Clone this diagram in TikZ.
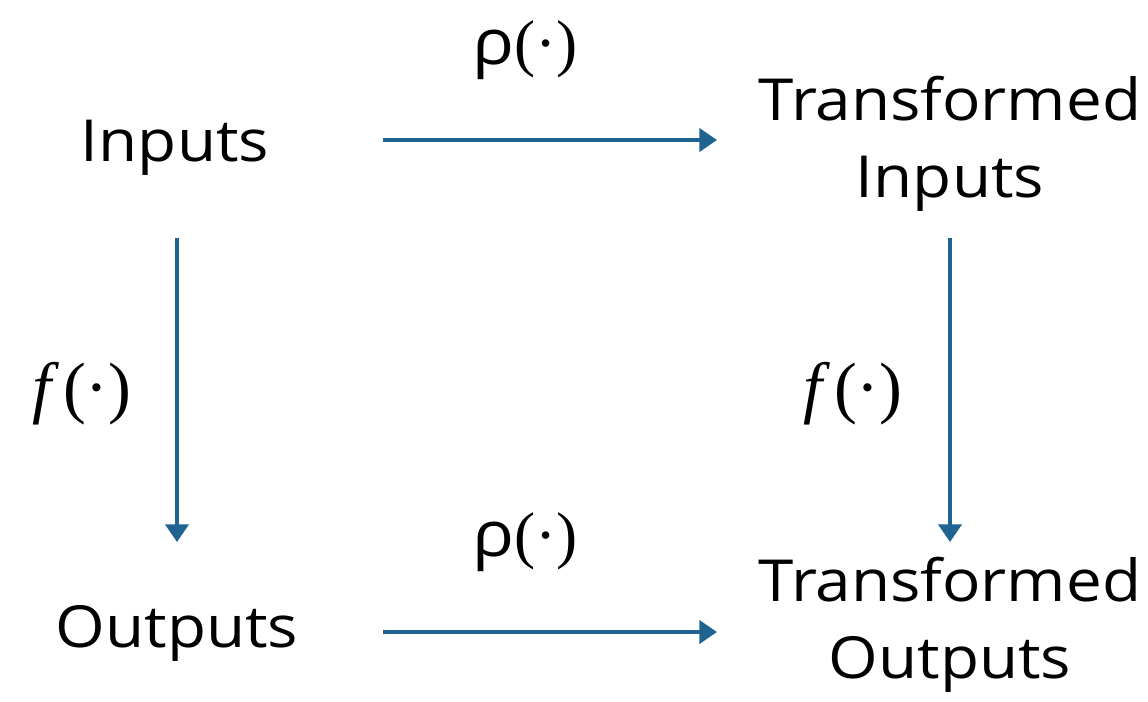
\documentclass[tikz,border=0pt]{standalone}
\usepackage{fontspec}
\setmainfont{Open Sans}[FakeStretch=1.1]
\newfontfamily\mathlikefont{Liberation Serif}
\usetikzlibrary{arrows.meta}
\definecolor{arrowblue}{HTML}{1F6391}
\begin{document}
\begin{tikzpicture}[x=0.02cm,y=-0.02cm,
  lbl/.style={font=\fontsize{33}{44}\selectfont, align=center, inner sep=0pt},
  mlbl/.style={font=\fontsize{36}{40}\selectfont, inner sep=0pt},
  flbl/.style={font=\fontsize{39}{40}\selectfont, inner sep=0pt},
  conn/.style={draw=arrowblue, line width=2.3pt, -{Triangle[length=10pt,width=13pt]}}]
\useasboundingbox (0,0) rectangle (1148,701);
\node[lbl] (in) at (175,148) {Inputs};
\node[lbl] (tin) at (950,144) {Transformed\\Inputs};
\node[lbl] (out) at (177,633) {Outputs};
\node[lbl] (tout) at (950,625) {Transformed\\Outputs};
\coordinate (a1s) at (383,140); \coordinate (a1e) at (717,140);
\coordinate (a2s) at (383,632); \coordinate (a2e) at (717,632);
\coordinate (a3s) at (177,238); \coordinate (a3e) at (177,542);
\coordinate (a4s) at (950,238); \coordinate (a4e) at (950,542);
\draw[conn] (a1s) -- (a1e);
\draw[conn] (a2s) -- (a2e);
\draw[conn] (a3s) -- (a3e);
\draw[conn] (a4s) -- (a4e);
\node[mlbl] (rho1) at (525,50) {ρ\mathlikefont(·)};
\node[mlbl] (rho2) at (525,542) {ρ\mathlikefont(·)};
\node[flbl] (f1) at (82,394) {\mathlikefont\itshape f\upshape\,(·)};
\node[flbl] (f2) at (853,394) {\mathlikefont\itshape f\upshape\,(·)};
\end{tikzpicture}
\end{document}
